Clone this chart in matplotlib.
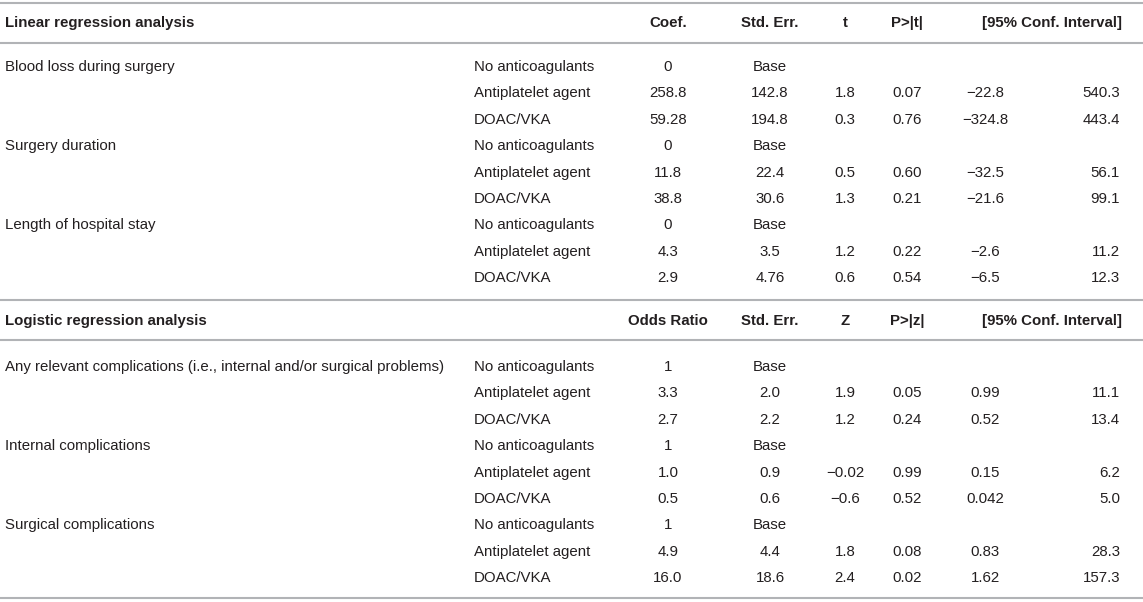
import matplotlib
matplotlib.use("Agg")
import matplotlib.pyplot as plt

plt.rcParams['font.family'] = ['Liberation Sans', 'DejaVu Sans']

lin_header = ["Linear regression analysis", "", "Coef.", "Std. Err.", "t", "P>|t|", "[95% Conf. Interval]"]
log_header = ["Logistic regression analysis", "", "Odds Ratio", "Std. Err.", "Z", "P>|z|", "[95% Conf. Interval]"]

groups = ["No anticoagulants", "Antiplatelet agent", "DOAC/VKA"]

lin_outcomes = ["Blood loss during surgery", "Surgery duration", "Length of hospital stay"]
lin_rows = [
    ["0", "Base", "", "", "", ""],
    ["258.8", "142.8", "1.8", "0.07", "\u221222.8", "540.3"],
    ["59.28", "194.8", "0.3", "0.76", "\u2212324.8", "443.4"],
    ["0", "Base", "", "", "", ""],
    ["11.8", "22.4", "0.5", "0.60", "\u221232.5", "56.1"],
    ["38.8", "30.6", "1.3", "0.21", "\u221221.6", "99.1"],
    ["0", "Base", "", "", "", ""],
    ["4.3", "3.5", "1.2", "0.22", "\u22122.6", "11.2"],
    ["2.9", "4.76", "0.6", "0.54", "\u22126.5", "12.3"],
]

log_outcomes = ["Any relevant complications (i.e., internal and/or surgical problems)",
                "Internal complications", "Surgical complications"]
log_rows = [
    ["1", "Base", "", "", "", ""],
    ["3.3", "2.0", "1.9", "0.05", "0.99", "11.1"],
    ["2.7", "2.2", "1.2", "0.24", "0.52", "13.4"],
    ["1", "Base", "", "", "", ""],
    ["1.0", "0.9", "\u22120.02", "0.99", "0.15", "6.2"],
    ["0.5", "0.6", "\u22120.6", "0.52", "0.042", "5.0"],
    ["1", "Base", "", "", "", ""],
    ["4.9", "4.4", "1.8", "0.08", "0.83", "28.3"],
    ["16.0", "18.6", "2.4", "0.02", "1.62", "157.3"],
]

W, H = 1143, 602
fig = plt.figure(figsize=(W / 100, H / 100), dpi=100)
ax = fig.add_axes([0, 0, 1, 1])
ax.set_xlim(0, W)
ax.set_ylim(H, 0)
ax.axis('off')

txt_color = '#231f20'
line_color = '#b1b3b6'
fs = 10.8

# column positions (pixels)
x_label = 5
x_group = 474
x_num = [668, 770, 845, 907, 985]   # centered
x_ci_hi = 1120                     # right-aligned
x_ci_head = 1052

def hline(y):
    ax.plot([0, W], [y, y], color=line_color, lw=1.5, solid_capstyle='butt')

def section(header, outcomes, rows, y_head, y_first, dy):
    ax.text(x_label, y_head, header[0], ha='left', va='center', fontsize=fs,
            fontweight='bold', color=txt_color)
    for i, h in enumerate(header[2:6]):
        ax.text(x_num[i], y_head, h, ha='center', va='center', fontsize=fs,
                fontweight='bold', color=txt_color)
    ax.text(x_ci_head, y_head, header[6], ha='center', va='center', fontsize=fs,
            fontweight='bold', color=txt_color)
    for r, row in enumerate(rows):
        y = y_first + r * dy
        if r % 3 == 0:
            ax.text(x_label, y, outcomes[r // 3], ha='left', va='center',
                    fontsize=fs, color=txt_color)
        ax.text(x_group, y, groups[r % 3], ha='left', va='center',
                fontsize=fs, color=txt_color)
        for c in range(5):
            ax.text(x_num[c], y, row[c], ha='center', va='center',
                    fontsize=fs, color=txt_color)
        ax.text(x_ci_hi, y, row[5], ha='right', va='center',
                fontsize=fs, color=txt_color)

hline(3)
hline(43)
section(lin_header, lin_outcomes, lin_rows, 23, 67, 26.4)
hline(300)
hline(340)
section(log_header, log_outcomes, log_rows, 321, 367, 26.4)
hline(598)

fig.savefig("out.png", dpi=100)
